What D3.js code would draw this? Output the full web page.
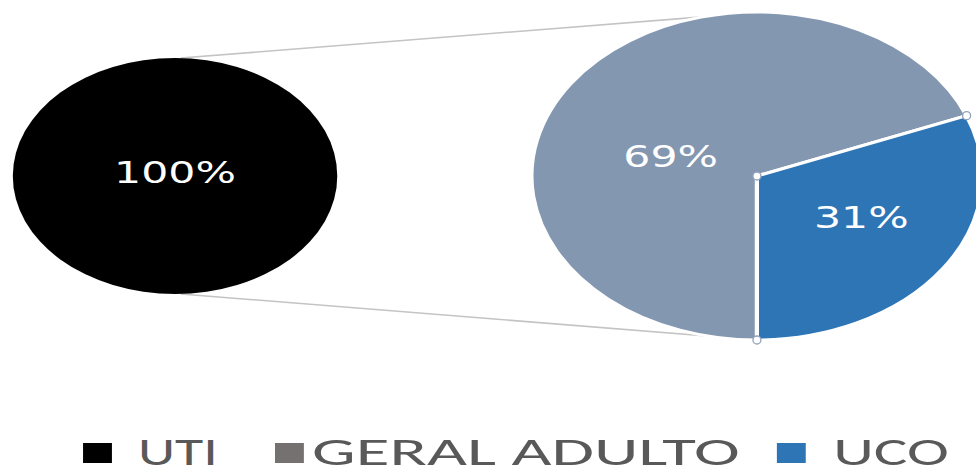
<!DOCTYPE html>
<html>
<head>
<meta charset="utf-8">
<script src="https://cdn.jsdelivr.net/npm/d3@7"></script>
<style>
  html, body { margin: 0; padding: 0; background: #ffffff; }
  svg { display: block; }
</style>
</head>
<body>
<svg id="chart" width="976" height="470"></svg>
<script>
// Primary pie: every record belongs to the UTI unit
const mainCategories = ["UTI"];
const mainValues = [100];

// Secondary pie: how the UTI share splits between its two wards
const splitCategories = ["GERAL ADULTO", "UCO"];
const splitValues = [69, 31];

// Legend entries, in display order
const legendLabels = ["UTI", "GERAL ADULTO", "UCO"];

// ---- layout ----
const sx = 1.375;                       // horizontal stretch of the whole plot
const mainCenter = { x: 127.3, y: 176 }, mainR = 118;
const splitCenter = { x: 550.5, y: 176 }, splitR = 164;
const deg = Math.PI / 180;

// label polar offsets (degrees clockwise from 12 o'clock, radius in px)
const labelPlacement = {
  "UTI": { angle: 0, r: 4 },
  "GERAL ADULTO": { angle: 288, r: 66 },
  "UCO": { angle: 118, r: 86 }
};
// where the connector lines meet each pie
const connectorTop = { main: 2, split: -14 };
const connectorBottom = { main: 178 };

const legendSquareX = [60.4, 200, 565];
const legendTextGap = [40, 27, 41];
const legendTextLength = [58, 311, 84];

const mainColor = d3.scaleOrdinal().domain(mainCategories).range(["#000000"]);
const splitColor = d3.scaleOrdinal().domain(splitCategories).range(["#8497b0", "#2e75b6"]);
const legendColor = d3.scaleOrdinal().domain(legendLabels).range(["#000000", "#767171", "#2e75b6"]);

const svg = d3.select("#chart");
const g = svg.append("g").attr("transform", `scale(${sx},1)`);

const mainData = mainCategories.map((c, i) => ({ category: c, value: mainValues[i] }));
const splitData = splitCategories.map((c, i) => ({ category: c, value: splitValues[i] }));

const mainArcs = d3.pie().sort(null).value(d => d.value)(mainData);
const splitArcs = d3.pie().sort(null).value(d => d.value)
  .startAngle(Math.PI).endAngle(3 * Math.PI)(splitData);

const pt = (c, r, a) => ({ x: c.x + r * Math.sin(a), y: c.y - r * Math.cos(a) });

// ---- connector lines between the two pies ----
const conn = [
  [pt(mainCenter, mainR, connectorTop.main * deg), pt(splitCenter, splitR, connectorTop.split * deg)],
  [pt(mainCenter, mainR, connectorBottom.main * deg), pt(splitCenter, splitR, splitArcs[0].startAngle)]
];
g.selectAll("line.connector").data(conn).join("line")
  .attr("class", "connector")
  .attr("x1", d => d[0].x).attr("y1", d => d[0].y)
  .attr("x2", d => d[1].x).attr("y2", d => d[1].y)
  .attr("stroke", "#c4c4c4")
  .attr("stroke-width", 1.6)
  .attr("vector-effect", "non-scaling-stroke");

// ---- primary pie ----
const mainArc = d3.arc().innerRadius(0).outerRadius(mainR);
g.append("g").attr("transform", `translate(${mainCenter.x},${mainCenter.y})`)
  .selectAll("path").data(mainArcs).join("path")
  .attr("d", mainArc)
  .attr("fill", d => mainColor(d.data.category));

// ---- secondary pie ----
const splitArc = d3.arc().innerRadius(0).outerRadius(splitR);
g.append("g").attr("transform", `translate(${splitCenter.x},${splitCenter.y})`)
  .selectAll("path").data(splitArcs).join("path")
  .attr("d", splitArc)
  .attr("fill", d => splitColor(d.data.category))
  .attr("stroke", "#ffffff")
  .attr("stroke-width", 3)
  .attr("stroke-linejoin", "round");

// ---- value labels ----
const fmt = v => Math.round(v) + "%";
const labelRows = [
  ...mainArcs.map(d => ({ d, c: mainCenter })),
  ...splitArcs.map(d => ({ d, c: splitCenter }))
];
g.selectAll("text.value").data(labelRows).join("text")
  .attr("class", "value")
  .each(function (row) {
    const p = labelPlacement[row.d.data.category];
    const q = pt(row.c, p.r, p.angle * deg);
    d3.select(this).attr("x", q.x).attr("y", q.y);
  })
  .attr("dy", "0.36em")
  .attr("text-anchor", "middle")
  .attr("font-family", "'DejaVu Sans', Verdana, sans-serif")
  .attr("font-size", 31)
  .attr("fill", "#ffffff")
  .text(row => fmt(row.d.data.value));

// ---- legend ----
const legend = g.append("g");
const items = legend.selectAll("g").data(legendLabels).join("g");
items.append("rect")
  .attr("x", (d, i) => legendSquareX[i])
  .attr("y", 443)
  .attr("width", 21)
  .attr("height", 20)
  .attr("fill", d => legendColor(d));
items.append("text")
  .attr("x", (d, i) => legendSquareX[i] + legendTextGap[i])
  .attr("y", 465)
  .attr("font-family", "Carlito, 'Open Sans', sans-serif")
  .attr("font-size", 39)
  .attr("fill", "#595959")
  .attr("textLength", (d, i) => legendTextLength[i])
  .attr("lengthAdjust", "spacingAndGlyphs")
  .text(d => d);

// ---- selection handles on the UCO slice (drawn unstretched) ----
const uco = splitArcs[1];
const handles = [
  { x: splitCenter.x, y: splitCenter.y },
  pt(splitCenter, splitR, uco.startAngle),
  pt(splitCenter, splitR, uco.endAngle)
];
svg.append("g").selectAll("circle").data(handles).join("circle")
  .attr("cx", d => d.x * sx)
  .attr("cy", d => d.y)
  .attr("r", 4)
  .attr("fill", "#ffffff")
  .attr("stroke", "#8fa2bb")
  .attr("stroke-width", 1.3);
</script>
</body>
</html>
